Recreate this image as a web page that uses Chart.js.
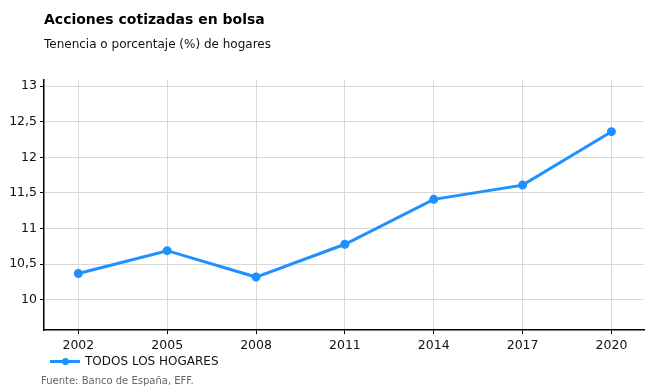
<!DOCTYPE html>
<html>
<head>
<meta charset="utf-8">
<script src="https://cdn.jsdelivr.net/npm/chart.js@4"></script>
<style>
    body { margin: 0; background: #fff; font-family: "DejaVu Sans", Verdana, sans-serif; }
    #wrap { position: relative; width: 658px; height: 392px; }
    #chart { position: absolute; left: 0; top: 0; }
    .title { position: absolute; left: 44px; top: 11px; font-size: 14px; font-weight: bold; color: #000; }
    .subtitle { position: absolute; left: 44px; top: 37px; font-size: 12px; color: #111; }
    .legend { position: absolute; left: 50px; top: 354px; font-size: 12px; color: #111; display: flex; align-items: center; }
    .legend .swatch { position: relative; width: 30px; height: 3px; background: #1e90ff; margin-right: 5px; }
    .legend .swatch::after { content: ''; position: absolute; left: 12px; top: -2px; width: 7px; height: 7px; border-radius: 50%; background: #1e90ff; }
    .source { position: absolute; left: 41px; top: 375px; font-size: 10px; color: #666; }
</style>
</head>
<body>
<div id="wrap">
    <canvas id="chart" width="658" height="392"></canvas>
    <div class="title">Acciones cotizadas en bolsa</div>
    <div class="subtitle">Tenencia o porcentaje (%) de hogares</div>
    <div class="legend"><span class="swatch"></span>TODOS LOS HOGARES</div>
    <div class="source">Fuente: Banco de España, EFF.</div>
</div>
<script>
// Data
const years = [2002, 2005, 2008, 2011, 2014, 2017, 2020];
const allHouseholds = [10.37, 10.69, 10.32, 10.78, 11.41, 11.61, 12.36];
const yTicks = [10, 10.5, 11, 11.5, 12, 12.5, 13];

const blue = '#1e90ff';

function formatComma(v) {
    return String(v).replace('.', ',');
}

const ctx = document.getElementById('chart');

new Chart(ctx, {
    type: 'line',
    data: {
        datasets: [{
            label: 'TODOS LOS HOGARES',
            data: years.map((y, i) => ({ x: y, y: allHouseholds[i] })),
            borderColor: blue,
            backgroundColor: blue,
            borderWidth: 3,
            pointRadius: 3,
            pointHoverRadius: 3,
            tension: 0
        }]
    },
    options: {
        responsive: false,
        animation: false,
        layout: { padding: { top: 80, right: 14, left: 0, bottom: 0 } },
        plugins: {
            legend: { display: false },
            tooltip: { enabled: false }
        },
        scales: {
            x: {
                type: 'linear',
                min: 2000.84,
                max: 2021.1,
                afterBuildTicks: axis => { axis.ticks = years.map(v => ({ value: v })); },
                afterFit: axis => { axis.height = 62; },
                border: { color: '#000', width: 1.5 },
                grid: { color: '#d9d9d9', tickColor: '#000', tickLength: 4, lineWidth: 1 },
                ticks: {
                    color: '#111',
                    font: { family: '"DejaVu Sans", Verdana, sans-serif', size: 12.5 },
                    padding: 4,
                    maxRotation: 0,
                    callback: v => String(v)
                }
            },
            y: {
                min: 9.577,
                max: 13.085,
                afterBuildTicks: axis => { axis.ticks = yTicks.map(v => ({ value: v })); },
                afterFit: axis => { axis.width = 44; },
                border: { color: '#000', width: 1.5 },
                grid: { color: '#d9d9d9', tickColor: '#000', tickLength: 4, lineWidth: 1 },
                ticks: {
                    color: '#111',
                    font: { family: '"DejaVu Sans", Verdana, sans-serif', size: 12.5 },
                    padding: 3,
                    callback: v => formatComma(v)
                }
            }
        }
    }
});
</script>
</body>
</html>
